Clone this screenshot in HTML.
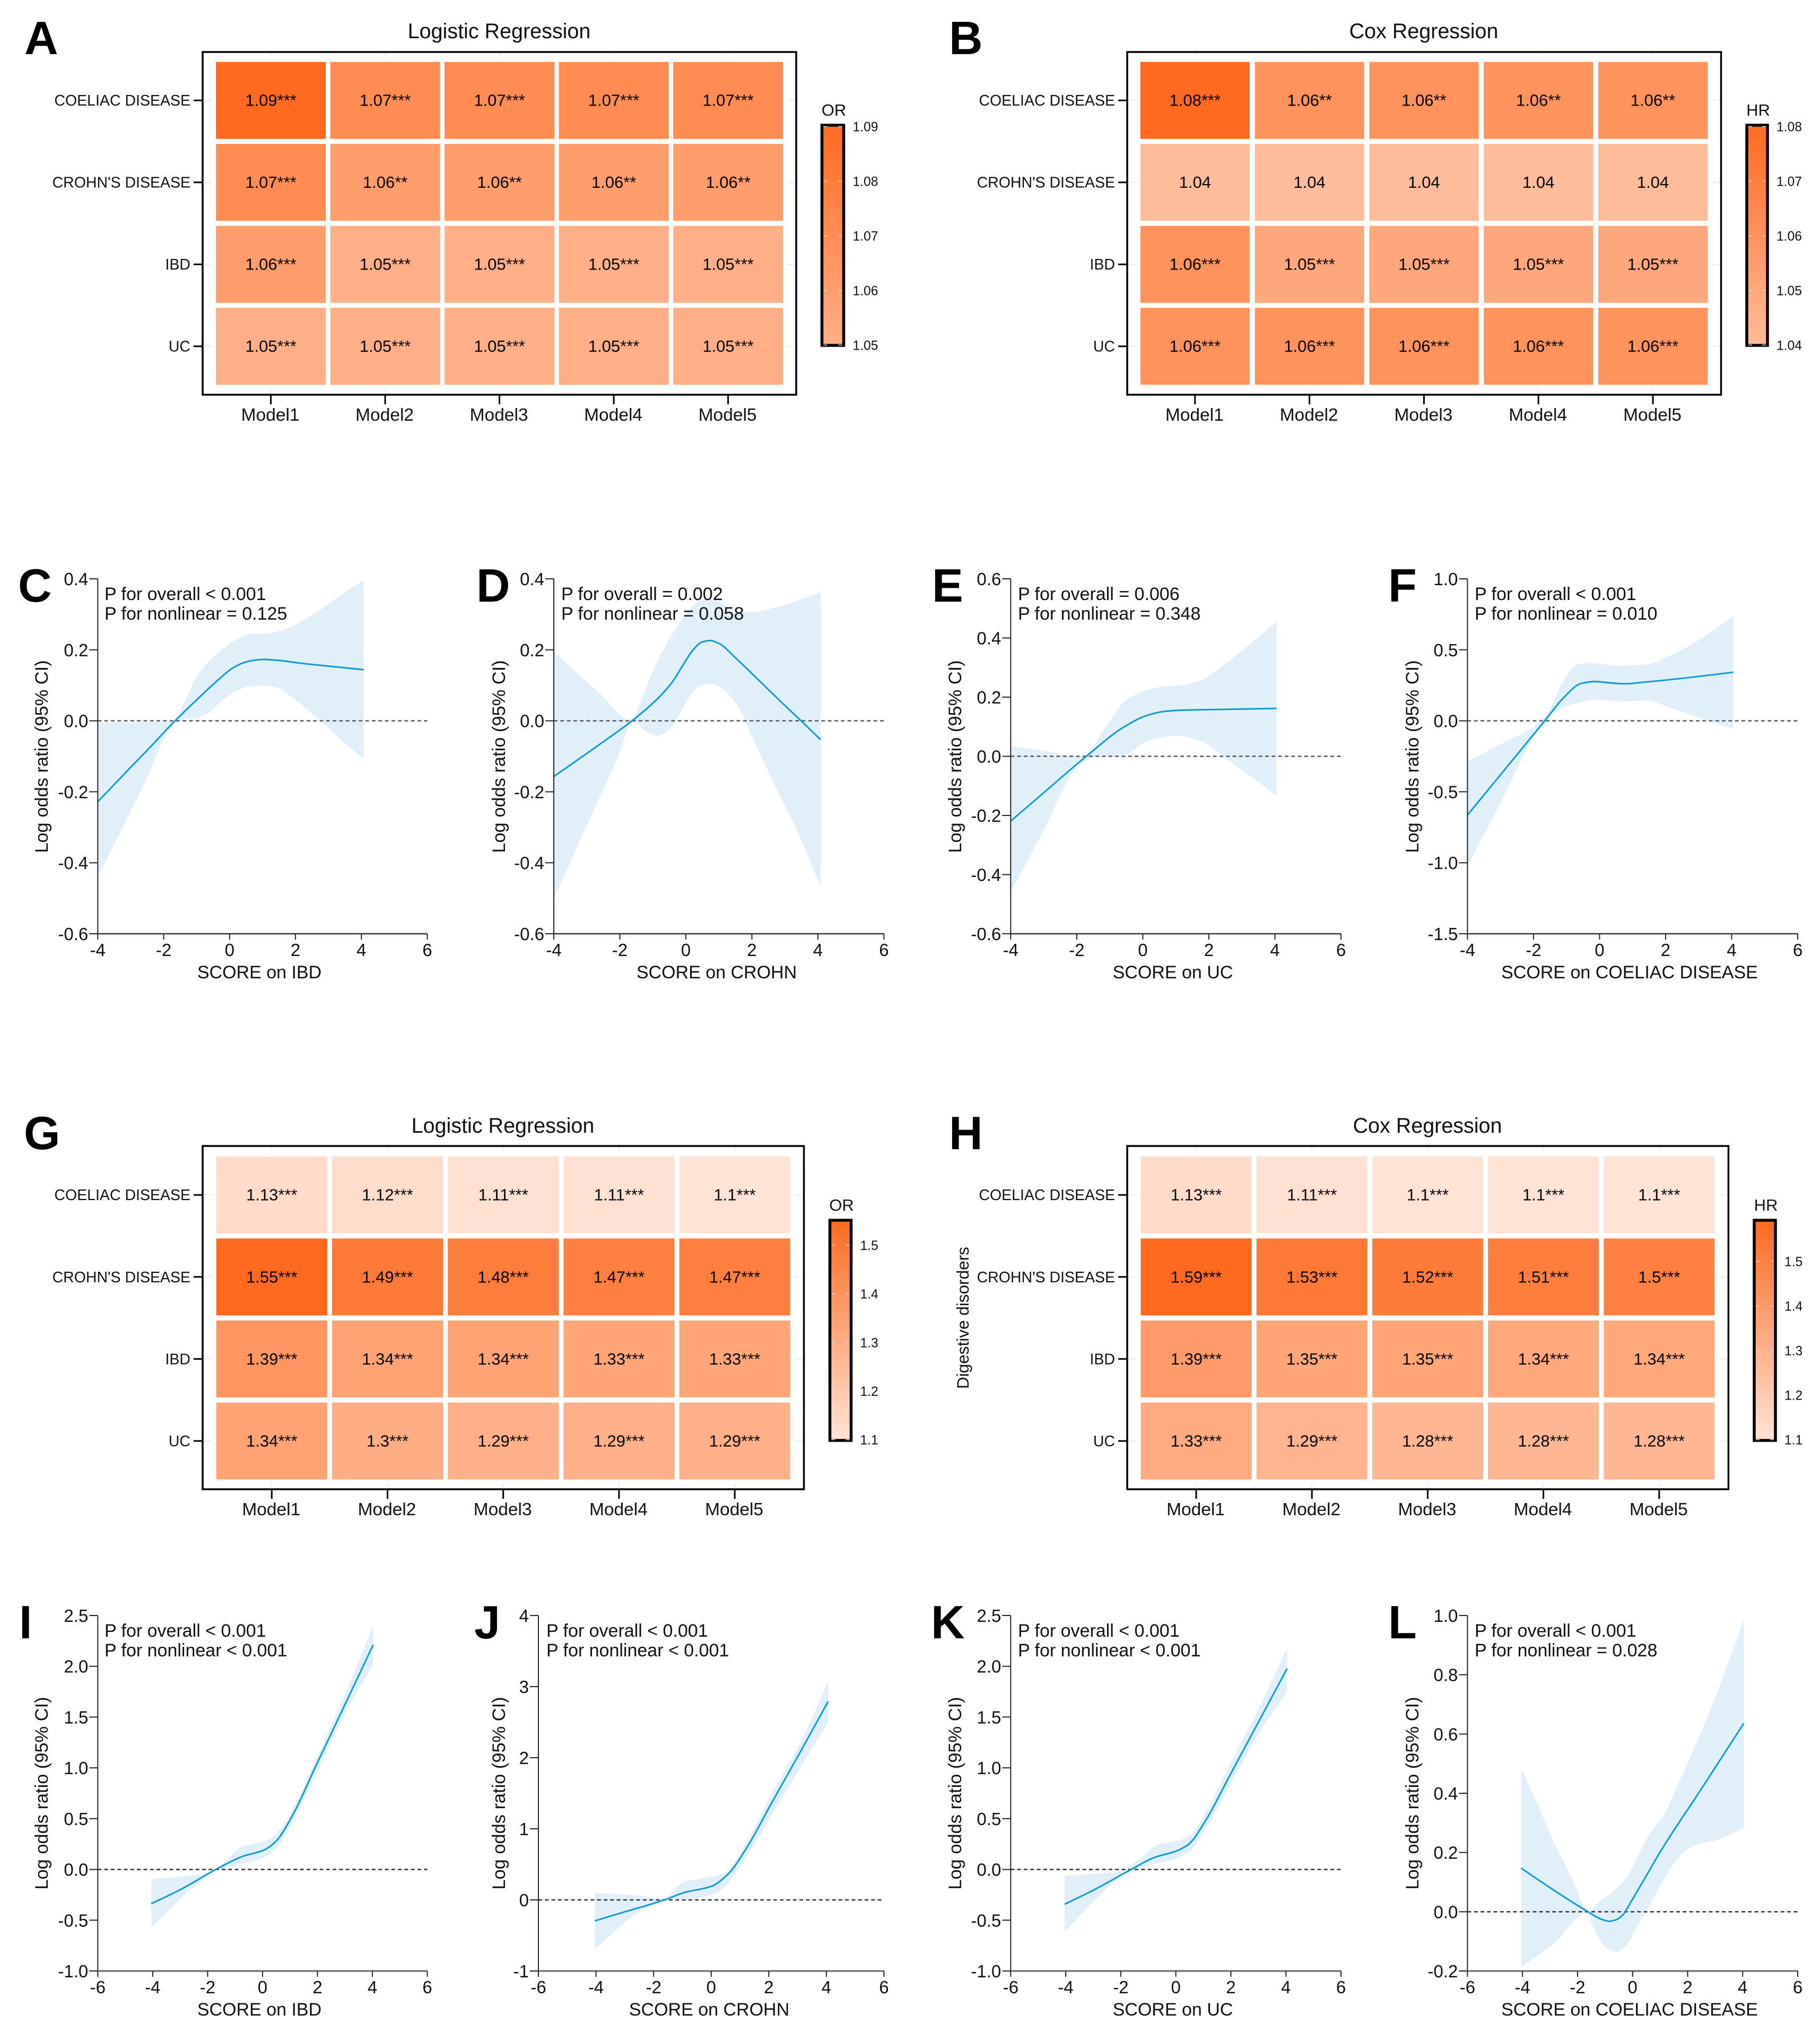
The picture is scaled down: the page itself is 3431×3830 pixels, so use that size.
<!DOCTYPE html>
<html>
<head>
<meta charset="utf-8">
<title>Heatmaps and spline curves</title>
<style>
html,body{margin:0;padding:0;background:#fff;}
svg{display:block;font-family:"Liberation Sans",Arial,sans-serif;fill:#000;}
.letter{font-size:88px;font-weight:bold;}
.title{font-size:39.5px;text-anchor:middle;fill:#111;}
.anno{font-size:34px;fill:#111;}
.axt{font-size:34px;text-anchor:middle;fill:#111;}
.ylab{font-size:34.4px;text-anchor:middle;fill:#111;}
</style>
</head>
<body>
<svg id="figure" xmlns="http://www.w3.org/2000/svg" width="3431" height="3830" viewBox="0 0 3431 3830">
<rect x="0" y="0" width="3431" height="3830" fill="#fff"/>
<defs id="grads"></defs>
<g id="marks"></g>

<text class="letter" x="46" y="102">A</text>
<text class="letter" x="1789" y="102">B</text>
<text class="letter" x="34" y="1134">C</text>
<text class="letter" x="898" y="1134">D</text>
<text class="letter" x="1757" y="1134">E</text>
<text class="letter" x="2617" y="1134">F</text>
<text class="letter" x="45" y="2166">G</text>
<text class="letter" x="1789" y="2166">H</text>
<text class="letter" x="36" y="3088">I</text>
<text class="letter" x="894" y="3088">J</text>
<text class="letter" x="1755" y="3088">K</text>
<text class="letter" x="2617" y="3088">L</text>

<text class="title" x="941" y="72">Logistic Regression</text>
<text class="title" x="2684" y="72">Cox Regression</text>
<text class="title" x="948" y="2135">Logistic Regression</text>
<text class="title" x="2691" y="2135">Cox Regression</text>

<text class="axt" transform="translate(1826 2484) rotate(-90)" style="font-size:31.5px">Digestive disorders</text>

<text class="anno" x="197" y="1131">P for overall &lt; 0.001</text>
<text class="anno" x="197" y="1168">P for nonlinear = 0.125</text>
<text class="anno" x="1058" y="1131">P for overall = 0.002</text>
<text class="anno" x="1058" y="1168">P for nonlinear = 0.058</text>
<text class="anno" x="1919" y="1131">P for overall = 0.006</text>
<text class="anno" x="1919" y="1168">P for nonlinear = 0.348</text>
<text class="anno" x="2780" y="1131">P for overall &lt; 0.001</text>
<text class="anno" x="2780" y="1168">P for nonlinear = 0.010</text>
<text class="anno" x="197" y="3085">P for overall &lt; 0.001</text>
<text class="anno" x="197" y="3122">P for nonlinear &lt; 0.001</text>
<text class="anno" x="1030" y="3085">P for overall &lt; 0.001</text>
<text class="anno" x="1030" y="3122">P for nonlinear &lt; 0.001</text>
<text class="anno" x="1919" y="3085">P for overall &lt; 0.001</text>
<text class="anno" x="1919" y="3122">P for nonlinear &lt; 0.001</text>
<text class="anno" x="2780" y="3085">P for overall &lt; 0.001</text>
<text class="anno" x="2780" y="3122">P for nonlinear = 0.028</text>

<text class="axt" x="489" y="1844">SCORE on IBD</text>
<text class="axt" x="1351" y="1844">SCORE on CROHN</text>
<text class="axt" x="2211" y="1844">SCORE on UC</text>
<text class="axt" x="3072" y="1844">SCORE on COELIAC DISEASE</text>
<text class="axt" x="489" y="3799">SCORE on IBD</text>
<text class="axt" x="1337" y="3799">SCORE on CROHN</text>
<text class="axt" x="2211" y="3799">SCORE on UC</text>
<text class="axt" x="3072" y="3799">SCORE on COELIAC DISEASE</text>

<text class="ylab" transform="translate(90 1426) rotate(-90)">Log odds ratio (95% CI)</text>
<text class="ylab" transform="translate(952 1426) rotate(-90)">Log odds ratio (95% CI)</text>
<text class="ylab" transform="translate(1812 1426) rotate(-90)">Log odds ratio (95% CI)</text>
<text class="ylab" transform="translate(2674 1426) rotate(-90)">Log odds ratio (95% CI)</text>
<text class="ylab" transform="translate(90 3380) rotate(-90)">Log odds ratio (95% CI)</text>
<text class="ylab" transform="translate(952 3380) rotate(-90)">Log odds ratio (95% CI)</text>
<text class="ylab" transform="translate(1812 3380) rotate(-90)">Log odds ratio (95% CI)</text>
<text class="ylab" transform="translate(2674 3380) rotate(-90)">Log odds ratio (95% CI)</text>
</svg>

<script>
// ---------- heatmap data ----------
const diseases = ["COELIAC DISEASE", "CROHN'S DISEASE", "IBD", "UC"];
const models = ["Model1", "Model2", "Model3", "Model4", "Model5"];

const valuesA = [[1.09,1.07,1.07,1.07,1.07],[1.07,1.06,1.06,1.06,1.06],[1.06,1.05,1.05,1.05,1.05],[1.05,1.05,1.05,1.05,1.05]];
const starsA = [["***","***","***","***","***"],["***","**","**","**","**"],["***","***","***","***","***"],["***","***","***","***","***"]];
const legendTicksA = [1.09,1.08,1.07,1.06,1.05];

const valuesB = [[1.08,1.06,1.06,1.06,1.06],[1.04,1.04,1.04,1.04,1.04],[1.06,1.05,1.05,1.05,1.05],[1.06,1.06,1.06,1.06,1.06]];
const starsB = [["***","**","**","**","**"],["","","","",""],["***","***","***","***","***"],["***","***","***","***","***"]];
const legendTicksB = [1.08,1.07,1.06,1.05,1.04];

const valuesG = [[1.13,1.12,1.11,1.11,1.1],[1.55,1.49,1.48,1.47,1.47],[1.39,1.34,1.34,1.33,1.33],[1.34,1.3,1.29,1.29,1.29]];
const starsG = [["***","***","***","***","***"],["***","***","***","***","***"],["***","***","***","***","***"],["***","***","***","***","***"]];
const legendTicksG = [1.5,1.4,1.3,1.2,1.1];

const valuesH = [[1.13,1.11,1.1,1.1,1.1],[1.59,1.53,1.52,1.51,1.5],[1.39,1.35,1.35,1.34,1.34],[1.33,1.29,1.28,1.28,1.28]];
const starsH = [["***","***","***","***","***"],["***","***","***","***","***"],["***","***","***","***","***"],["***","***","***","***","***"]];
const legendTicksH = [1.5,1.4,1.3,1.2,1.1];

// ---------- spline data: [score, log odds ratio] ----------
const xTicksUpper = ["-4","-2","0","2","4","6"];
const xTicksLower = ["-6","-4","-2","0","2","4","6"];

const yTicksC = ["-0.6","-0.4","-0.2","0.0","0.2","0.4"];
const fitC = [[-4,-.228],[-3,-.131],[-2.46,-.079],[-1.655,0],[-.85,.072],[-.314,.118],[.115,.15],[.544,.167],[1.03,.173],[1.51,.17],[2.1,.163],[2.8,.156],[4.07,.144]];
const upperC = [[-4,-.005],[-3,-.004],[-2,-.003],[-1.66,0],[-1.39,.048],[-1.065,.113],[-.636,.167],[-.207,.202],[.22,.23],[.65,.245],[1.19,.247],[1.72,.26],[2.26,.284],[2.74,.312],[3.15,.34],[4.07,.397]];
const lowerC = [[-4,-.44],[-2.46,-.151],[-1.92,-.037],[-1.7,-.008],[-1.39,.005],[-1.01,.008],[-.64,.023],[-.21,.058],[.22,.085],[.6,.097],[1.03,.099],[1.46,.093],[1.94,.063],[2.37,.03],[2.85,-.007],[3.44,-.059],[4.07,-.107]];

const yTicksD = ["-0.6","-0.4","-0.2","0.0","0.2","0.4"];
const fitD = [[-4,-.157],[-2.62,-.067],[-1.63,0],[-.85,.063],[-.42,.108],[-.1,.155],[.22,.2],[.49,.222],[.73,.226],[1.02,.217],[1.45,.182],[2.2,.115],[3,.043],[3.49,0],[4.08,-.053]];
const upperD = [[-4,.195],[-2.62,.078],[-1.63,0],[-1.33,.063],[-1.01,.138],[-.58,.217],[-.1,.287],[.27,.329],[.6,.342],[.97,.337],[1.4,.309],[1.93,.306],[2.63,.317],[4.08,.362]];
const lowerD = [[-4,-.502],[-2.62,-.216],[-2.08,-.107],[-1.6,-.002],[-1.225,-.029],[-.88,-.042],[-.53,-.027],[-.26,.008],[.11,.068],[.43,.1],[.76,.104],[1.13,.088],[1.56,.043],[1.99,-.042],[2.74,-.191],[3.33,-.301],[4.08,-.466]];

const yTicksE = ["-0.6","-0.4","-0.2","0.0","0.2","0.4","0.6"];
const fitE = [[-4,-.219],[-3,-.123],[-1.71,0],[-.56,.1],[.15,.139],[.68,.152],[1.21,.156],[2.63,.159],[4.05,.162]];
const upperE = [[-4,.034],[-3,.0185],[-1.8,0],[-1.18,.09],[-.47,.193],[.5,.234],[1.21,.241],[1.74,.256],[2.45,.309],[4.05,.455]];
const lowerE = [[-4,-.459],[-3,-.25],[-1.98,-.036],[-1.45,-.002],[-.56,.005],[.15,.052],[1.04,.069],[1.74,.052],[2.63,-.017],[4.05,-.133]];

const yTicksF = ["-1.5","-1.0","-0.5","0.0","0.5","1.0"];
const fitF = [[-4,-.664],[-3,-.38],[-1.66,0],[-1.09,.162],[-.56,.263],[-.15,.277],[.33,.267],[.77,.261],[1.39,.273],[2.45,.298],[4.05,.342]];
const upperF = [[-4,-.287],[-3,-.165],[-1.98,-.04],[-1.62,.04],[-1.09,.283],[-.74,.389],[-.29,.409],[.5,.389],[1.39,.395],[2.1,.455],[2.99,.567],[4.05,.739]];
const lowerF = [[-4,-1.022],[-3,-.576],[-1.8,-.04],[-1.45,.05],[-.74,.121],[-.12,.148],[.68,.138],[1.39,.142],[2.28,.081],[3.16,.01],[4.05,-.057]];

const yTicksI = ["-1.0","-0.5","0.0","0.5","1.0","1.5","2.0","2.5"];
const fitI = [[-4.05,-.337],[-3,-.2],[-1.7,0],[-.76,.125],[.07,.193],[.49,.278],[1.12,.547],[1.96,1.03],[3,1.623],[4.03,2.212]];
const upperI = [[-4.05,-.096],[-2,-.034],[-1.48,.051],[-.76,.221],[.07,.278],[.49,.348],[1.12,.603],[1.96,1.09],[3,1.72],[4.03,2.4]];
const lowerI = [[-4.05,-.572],[-2.44,-.161],[-1.6,-.006],[-.76,.051],[.07,.122],[.49,.207],[1.12,.49],[1.96,.95],[3,1.53],[4.03,2.02]];

const yTicksJ = ["-1","0","1","2","3","4"];
const fitJ = [[-4.04,-.295],[-3,-.168],[-1.62,0],[-.92,.105],[0,.19],[.58,.36],[1.28,.765],[2.08,1.35],[3.08,2.07],[4.06,2.79]];
const upperJ = [[-4.04,.1],[-2.5,.06],[-1.7,.016],[-.92,.26],[-.34,.3],[.46,.38],[1.28,.845],[2.08,1.48],[3.08,2.2],[4.06,3.07]];
const lowerJ = [[-4.04,-.69],[-2.32,-.125],[-1.52,.004],[-.34,.036],[.26,.117],[1.28,.643],[2.08,1.18],[3.08,1.85],[4.06,2.5]];

const yTicksK = ["-1.0","-0.5","0.0","0.5","1.0","1.5","2.0","2.5"];
const fitK = [[-4.04,-.343],[-3,-.205],[-1.62,0],[-.81,.115],[.04,.184],[.47,.249],[1.1,.49],[1.96,.925],[3.02,1.46],[4.04,1.977]];
const upperK = [[-4.04,-.062],[-2.04,-.02],[-1.23,.122],[-.6,.249],[.04,.278],[.57,.348],[1.1,.575],[1.96,1.03],[3.02,1.59],[4.04,2.18]];
const lowerK = [[-4.04,-.615],[-2.72,-.246],[-1.66,-.006],[-.81,.051],[.04,.108],[.57,.193],[1.1,.405],[1.96,.83],[3.02,1.34],[4.04,1.75]];

const yTicksL = ["-0.2","0.0","0.2","0.4","0.6","0.8","1.0"];
const fitL = [[-4.05,.147],[-2.85,.072],[-1.62,0],[-1.17,-.024],[-.85,-.032],[-.6,-.027],[-.34,-.009],[-.08,.03],[.37,.101],[1.01,.203],[1.65,.296],[2.29,.385],[2.94,.478],[4.04,.636]];
const upperL = [[-4.05,.484],[-3.49,.37],[-2.85,.233],[-2.2,.113],[-1.62,.003],[-1.17,.036],[-.6,.078],[-.15,.125],[.24,.197],[.63,.263],[1.14,.328],[1.65,.43],[2.17,.537],[3.02,.728],[4.04,.985]];
const lowerL = [[-4.05,-.186],[-2.85,-.107],[-1.69,-.006],[-1.3,-.078],[-.98,-.119],[-.6,-.136],[-.28,-.119],[.11,-.06],[.56,.012],[1.01,.09],[1.4,.149],[1.85,.2],[2.36,.227],[2.94,.239],[4.04,.282]];

// ---------- drawing helpers ----------
const NS = "http://www.w3.org/2000/svg";
const marks = document.getElementById("marks");
const grads = document.getElementById("grads");

function make(tag, parent, attrs, text) {
  const node = document.createElementNS(NS, tag);
  for (const k in attrs) node.setAttribute(k, attrs[k]);
  if (text !== undefined) node.textContent = text;
  parent.appendChild(node);
  return node;
}

function linear(d0, d1, r0, r1) {
  return function (v) { return r0 + (v - d0) / (d1 - d0) * (r1 - r0); };
}

function heatColor(t) {
  const g = Math.round(255 - 149 * t);
  const b = Math.round(255 - 223 * t);
  return "rgb(255," + g + "," + b + ")";
}

function drawHeatmap(id, values, stars, legendTicks, geo, legendTitle) {
  const tOf = linear(geo.colorLow, geo.colorHigh, geo.tLow, 1);
  const group = make("g", marks, {});
  
  

  const box = make("rect", group, {x: geo.boxX0, y: geo.boxY0, width: geo.boxX1 - geo.boxX0, height: geo.boxY1 - geo.boxY0, fill: "#fff", stroke: "#000", "stroke-width": 3.5});
  
  

  values.forEach(function (row, r) {
    const cy = geo.firstRow + r * geo.rowPitch;
    const ghostL = make("line", group, {x1: geo.boxX0 + 2, x2: geo.boxX0 + 17, y1: cy, y2: cy, stroke: "#eee", "stroke-width": 2.5});
    
    
    const ghostR = make("line", group, {x1: geo.boxX1 - 17, x2: geo.boxX1 - 2, y1: cy, y2: cy, stroke: "#eee", "stroke-width": 2.5});
    
    
    row.forEach(function (v, c) {
      const cx = geo.firstCol + c * geo.colPitch;
      const cell = make("rect", group, {x: cx - geo.cellW / 2, y: cy - geo.cellH / 2, width: geo.cellW, height: geo.cellH, fill: heatColor(tOf(v))});
      
      
      const label = make("text", group, {x: cx, y: cy + 10.5, "text-anchor": "middle", "font-size": 31, fill: "#000"}, String(v) + stars[r][c]);
      
      
    });
    const tick = make("line", group, {x1: geo.boxX0 - 17, x2: geo.boxX0, y1: cy, y2: cy, stroke: "#000", "stroke-width": 3});
    
    
    const rowLabel = make("text", group, {x: geo.boxX0 - 23, y: cy + 10, "text-anchor": "end", "font-size": 28.5, fill: "#111"}, diseases[r]);
    
    
  });

  models.forEach(function (m, c) {
    const cx = geo.firstCol + c * geo.colPitch;
    const ghostT = make("line", group, {x1: cx, x2: cx, y1: geo.boxY0 + 2, y2: geo.boxY0 + 10, stroke: "#eee", "stroke-width": 2.5});
    
    
    const ghostB = make("line", group, {x1: cx, x2: cx, y1: geo.boxY1 - 10, y2: geo.boxY1 - 2, stroke: "#eee", "stroke-width": 2.5});
    
    
    const tick = make("line", group, {x1: cx, x2: cx, y1: geo.boxY1, y2: geo.boxY1 + 18, stroke: "#000", "stroke-width": 3});
    
    
    const lab = make("text", group, {x: cx - 1, y: geo.boxY1 + 49, "text-anchor": "middle", "font-size": 33.5, fill: "#111"}, m);
    
    
  });

  // colour bar
  const grad = make("linearGradient", grads, {id: "grad-" + id, x1: 0, y1: 0, x2: 0, y2: 1});
  make("stop", grad, {offset: 0, "stop-color": heatColor(1)});
  make("stop", grad, {offset: 1, "stop-color": heatColor(geo.tLow)});
  const bar = make("rect", group, {x: geo.barX0, y: geo.barY0, width: geo.barX1 - geo.barX0, height: geo.barY1 - geo.barY0, fill: "url(#grad-" + id + ")", stroke: "#000", "stroke-width": 5.5});
  
  
  const barScale = linear(legendTicks[0], legendTicks[legendTicks.length - 1], geo.barTick0, geo.barTick1);
  legendTicks.forEach(function (v) {
    const y = barScale(v);
    const t1 = make("line", group, {x1: geo.barX0 + 3, x2: geo.barX0 + 10, y1: y, y2: y, stroke: "#ddd", "stroke-width": 1.5});
    
    
    const t2 = make("line", group, {x1: geo.barX1 - 10, x2: geo.barX1 - 3, y1: y, y2: y, stroke: "#ddd", "stroke-width": 1.5});
    
    
    const lab = make("text", group, {x: geo.barX1 + 17, y: y + 9, "font-size": 24.6, fill: "#111"}, String(v));
    
    
  });
  const lt = make("text", group, {x: (geo.barX0 + geo.barX1) / 2 + 2, y: geo.barY0 - 18, "text-anchor": "middle", "font-size": 31, fill: "#111"}, legendTitle);
  
  
}

// monotone (PCHIP) cubic through the points; works in either x direction
function smoothSegments(pts) {
  const n = pts.length;
  const h = [];
  const d = [];
  for (let i = 0; i < n - 1; i++) {
    h.push(pts[i + 1][0] - pts[i][0]);
    d.push((pts[i + 1][1] - pts[i][1]) / h[i]);
  }
  const m = [d[0]];
  for (let i = 1; i < n - 1; i++) {
    if (d[i - 1] * d[i] <= 0) { m.push(0); continue; }
    const a = Math.abs(h[i - 1]);
    const b = Math.abs(h[i]);
    const w1 = 2 * b + a;
    const w2 = b + 2 * a;
    m.push((w1 + w2) / (w1 / d[i - 1] + w2 / d[i]));
  }
  m.push(d[n - 2]);
  let out = "";
  for (let i = 0; i < n - 1; i++) {
    const p1 = pts[i];
    const p2 = pts[i + 1];
    out += "C" + (p1[0] + h[i] / 3).toFixed(1) + " " + (p1[1] + m[i] * h[i] / 3).toFixed(1) + " " +
      (p2[0] - h[i] / 3).toFixed(1) + " " + (p2[1] - m[i + 1] * h[i] / 3).toFixed(1) + " " +
      p2[0].toFixed(1) + " " + p2[1].toFixed(1);
  }
  return out;
}

function drawSpline(id, xTicks, yTicks, fit, upper, lower, geo) {
  const xNums = xTicks.map(Number);
  const yNums = yTicks.map(Number);
  const sx = linear(xNums[0], xNums[xNums.length - 1], geo.x0, geo.x1);
  const sy = linear(yNums[0], yNums[yNums.length - 1], geo.yBottom, geo.yTop);
  const toPx = function (p) { return [sx(p[0]), sy(p[1])]; };

  const group = make("g", marks, {});
  
  

  const up = upper.map(toPx);
  const lowRev = lower.map(toPx).reverse();
  const bandD = "M" + up[0][0].toFixed(1) + " " + up[0][1].toFixed(1) + smoothSegments(up) +
    "L" + lowRev[0][0].toFixed(1) + " " + lowRev[0][1].toFixed(1) + smoothSegments(lowRev) + "Z";
  const band = make("path", group, {d: bandD, fill: "#e1f0f8", stroke: "none"});
  
  

  const ref = make("line", group, {x1: geo.x0, x2: geo.x1, y1: sy(0), y2: sy(0), stroke: geo.dashColor, "stroke-width": 2.5, "stroke-dasharray": "7 5.3"});
  
  

  const f = fit.map(toPx);
  const line = make("path", group, {d: "M" + f[0][0].toFixed(1) + " " + f[0][1].toFixed(1) + smoothSegments(f), fill: "none", stroke: "#0f9bd2", "stroke-width": 3});
  
  

  const yAxis = make("line", group, {x1: geo.x0, x2: geo.x0, y1: geo.yTop, y2: geo.yBottom, stroke: "#222", "stroke-width": 2});
  
  
  const xAxis = make("line", group, {x1: geo.x0, x2: geo.x1, y1: geo.yBottom, y2: geo.yBottom, stroke: geo.axisColor, "stroke-width": geo.axisWidth});
  
  

  yTicks.forEach(function (label, i) {
    const y = sy(yNums[i]);
    const tick = make("line", group, {x1: geo.x0 - 16, x2: geo.x0, y1: y, y2: y, stroke: "#222", "stroke-width": 2});
    
    
    const lab = make("text", group, {x: geo.x0 - 18, y: y + 12, "text-anchor": "end", "font-size": 33, fill: "#111"}, label);
    
    
  });
  xTicks.forEach(function (label, i) {
    const x = sx(xNums[i]);
    const tick = make("line", group, {x1: x, x2: x, y1: geo.yBottom, y2: geo.yBottom + 11, stroke: "#222", "stroke-width": 2});
    
    
    const lab = make("text", group, {x: x, y: geo.yBottom + 42, "text-anchor": "middle", "font-size": 33, fill: "#111"}, label);
    
    
  });
}

// ---------- layout ----------
const rowsTop = {boxY0: 98, boxY1: 744, firstRow: 189.2, rowPitch: 154.5, cellH: 145, barY0: 236, barY1: 651, barTick0: 238.5, barTick1: 650.4};

drawHeatmap("a", valuesA, starsA, legendTicksA, Object.assign({}, rowsTop, {
  boxX0: 382, boxX1: 1501, firstCol: 510.6, colPitch: 215.5, cellW: 207,
  barX0: 1549.5, barX1: 1590.5, colorLow: 1.05, colorHigh: 1.09, tLow: 0.54
}), "OR");
drawHeatmap("b", valuesB, starsB, legendTicksB, Object.assign({}, rowsTop, {
  boxX0: 2125, boxX1: 3244.5, firstCol: 2252.8, colPitch: 215.8, cellW: 206,
  barX0: 3293, barX1: 3332, colorLow: 1.04, colorHigh: 1.08, tLow: 0.45
}), "HR");

const rowsMid = {boxY0: 2160, boxY1: 2807, firstRow: 2252.2, rowPitch: 154.6, cellH: 145, barY0: 2300, barY1: 2715};

drawHeatmap("g", valuesG, starsG, legendTicksG, Object.assign({}, rowsMid, {
  boxX0: 382, boxX1: 1515.5, firstCol: 512.3, colPitch: 218.2, cellW: 209,
  barX0: 1564.5, barX1: 1604.5, barTick0: 2347, barTick1: 2713.5, colorLow: 1.10, colorHigh: 1.55, tLow: 0.19
}), "OR");
drawHeatmap("h", valuesH, starsH, legendTicksH, Object.assign({}, rowsMid, {
  boxX0: 2125, boxX1: 3258.4, firstCol: 2255, colPitch: 218.2, cellW: 209,
  barX0: 3307, barX1: 3347, barTick0: 2377.4, barTick1: 2713.5, colorLow: 1.10, colorHigh: 1.59, tLow: 0.19
}), "HR");

const upperRow = {yTop: 1091, yBottom: 1760, dashColor: "#555", axisColor: "#333", axisWidth: 2.5};
const lowerRow = {yTop: 3045, yBottom: 3715, dashColor: "#333", axisColor: "#666", axisWidth: 3};

drawSpline("c", xTicksUpper, yTicksC, fitC, upperC, lowerC, Object.assign({x0: 184.3, x1: 805.6}, upperRow));
drawSpline("d", xTicksUpper, yTicksD, fitD, upperD, lowerD, Object.assign({x0: 1044, x1: 1666.4}, upperRow));
drawSpline("e", xTicksUpper, yTicksE, fitE, upperE, lowerE, Object.assign({x0: 1905.3, x1: 2528}, upperRow));
drawSpline("f", xTicksUpper, yTicksF, fitF, upperF, lowerF, Object.assign({x0: 2766.4, x1: 3389}, upperRow));
drawSpline("i", xTicksLower, yTicksI, fitI, upperI, lowerI, Object.assign({x0: 184.3, x1: 805.6}, lowerRow));
drawSpline("j", xTicksLower, yTicksJ, fitJ, upperJ, lowerJ, Object.assign({x0: 1015, x1: 1666.4}, lowerRow));
drawSpline("k", xTicksLower, yTicksK, fitK, upperK, lowerK, Object.assign({x0: 1905.3, x1: 2528}, lowerRow));
drawSpline("l", xTicksLower, yTicksL, fitL, upperL, lowerL, Object.assign({x0: 2766.4, x1: 3389}, lowerRow));
</script>
</body>
</html>
